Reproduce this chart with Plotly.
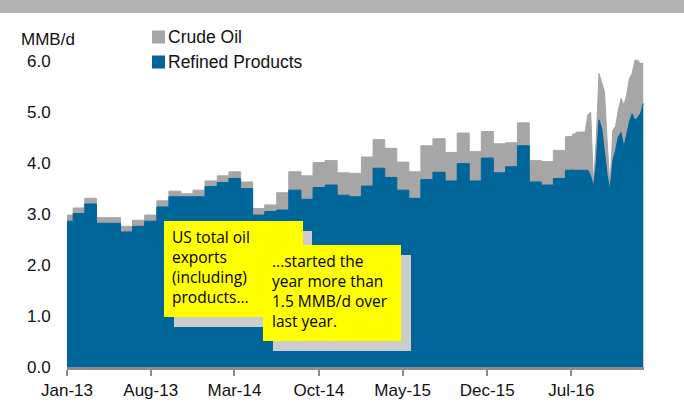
import pandas as pd
import plotly.graph_objects as go

# ---------------- data (MMB/d) ----------------
month_dates = pd.date_range("2013-01-01", "2016-06-01", freq="MS")
products_monthly = [
    2.86, 3.01, 3.20, 2.82, 2.82, 2.65, 2.76, 2.86, 3.14, 3.34, 3.34, 3.34,
    3.54, 3.62, 3.70, 3.50, 2.98, 3.05, 3.08, 3.47, 3.29, 3.52, 3.57, 3.37,
    3.34, 3.55, 3.90, 3.72, 3.47, 3.31, 3.68, 3.82, 3.65, 3.99, 3.65, 4.10,
    3.81, 3.93, 4.34, 3.63, 3.57, 3.70,
]
crude_monthly = [
    0.12, 0.11, 0.11, 0.11, 0.11, 0.11, 0.12, 0.12, 0.12, 0.11, 0.06, 0.13,
    0.11, 0.13, 0.13, 0.13, 0.13, 0.13, 0.34, 0.36, 0.46, 0.49, 0.48, 0.44,
    0.46, 0.57, 0.56, 0.57, 0.55, 0.52, 0.66, 0.66, 0.56, 0.60, 0.58, 0.52,
    0.57, 0.47, 0.45, 0.42, 0.46, 0.55,
]

week_dates = pd.date_range("2016-07-01", "2016-12-30", freq="7D")
products_weekly = [
    3.86, 3.86, 3.86, 3.86, 3.86, 3.86, 3.86, 3.75, 3.53, 4.00, 4.85, 4.68,
    4.21, 3.75, 3.47, 4.05, 4.25, 4.52, 4.60, 4.32, 4.55, 4.81, 4.97, 4.84,
    4.90, 4.97, 5.17,
]
crude_weekly = [
    0.66, 0.71, 0.75, 0.75, 0.75, 0.75, 1.09, 1.25, 0.07, 0.45, 0.91, 0.90,
    1.19, 0.65, 0.08, 0.60, 0.47, 0.53, 0.67, 0.82, 0.78, 0.85, 0.79, 1.18,
    1.12, 0.98, 0.79,
]

x_tick_labels = ["Jan-13", "Aug-13", "Mar-14", "Oct-14", "May-15", "Dec-15", "Jul-16"]
y_tick_values = [0, 1, 2, 3, 4, 5, 6]

# ---------------- styling ----------------
BLUE = "#006699"
GRAY = "#a6a6a6"
AXIS_GRAY = "#8c8c8c"
FONT = "Liberation Sans, Arial, sans-serif"
NOTE_FONT = "Comic Sans MS, Open Sans, sans-serif"

W, H = 684, 402
L, R, T, B = 67, 644, 51, 367
YMAX = 6.2


def px(x):
    return (x - L) / (R - L)


def py(y):
    return (B - y) / (B - T)


total_monthly = [p + c for p, c in zip(products_monthly, crude_monthly)]
total_weekly = [p + c for p, c in zip(products_weekly, crude_weekly)]

# monthly part (stepped) overlaps the first weekly interval so fills join cleanly
mx = list(month_dates) + list(week_dates[:2])
wx = list(week_dates)

fig = go.Figure()
# Crude oil stacked on top of products (drawn as total)
fig.add_trace(go.Scatter(x=mx, y=total_monthly + total_weekly[:2], mode="lines",
                         line=dict(shape="hvh", color=GRAY, width=1),
                         fill="tozeroy", fillcolor=GRAY, name="Crude Oil",
                         showlegend=False, hoverinfo="skip"))
fig.add_trace(go.Scatter(x=wx, y=total_weekly, mode="lines",
                         line=dict(shape="linear", color=GRAY, width=1),
                         fill="tozeroy", fillcolor=GRAY, name="Crude Oil",
                         showlegend=False, hoverinfo="skip"))
fig.add_trace(go.Scatter(x=mx, y=products_monthly + products_weekly[:2], mode="lines",
                         line=dict(shape="hvh", color=BLUE, width=1),
                         fill="tozeroy", fillcolor=BLUE, name="Refined Products",
                         showlegend=False, hoverinfo="skip"))
fig.add_trace(go.Scatter(x=wx, y=products_weekly, mode="lines",
                         line=dict(shape="linear", color=BLUE, width=1),
                         fill="tozeroy", fillcolor=BLUE, name="Refined Products",
                         showlegend=False, hoverinfo="skip"))

tick_dates = pd.date_range("2013-01-01", periods=len(x_tick_labels), freq="7MS")

shapes = [
    # top gray band
    dict(type="rect", xref="paper", yref="paper", x0=px(-5), x1=px(W + 5),
         y0=py(13), y1=py(-5), fillcolor="#b3b3b3", line_width=0, layer="above"),
    # legend swatches
    dict(type="rect", xref="paper", yref="paper", x0=px(152), x1=px(165),
         y0=py(43.5), y1=py(30.5), fillcolor=GRAY, line_width=0),
    dict(type="rect", xref="paper", yref="paper", x0=px(152), x1=px(165),
         y0=py(68.5), y1=py(55.5), fillcolor=BLUE, line_width=0),
    # note 1 shadow + box
    dict(type="rect", xref="paper", yref="paper", x0=px(174), x1=px(312),
         y0=py(327), y1=py(231), fillcolor="#cccccc", line_width=0, layer="above"),
    dict(type="rect", xref="paper", yref="paper", x0=px(164), x1=px(303),
         y0=py(317), y1=py(221), fillcolor="#ffff00", line_width=0, layer="above"),
    # note 2 shadow + box
    dict(type="rect", xref="paper", yref="paper", x0=px(273), x1=px(411),
         y0=py(351), y1=py(255), fillcolor="#cccccc", line_width=0, layer="above"),
    dict(type="rect", xref="paper", yref="paper", x0=px(263), x1=px(401),
         y0=py(341), y1=py(245), fillcolor="#ffff00", line_width=0, layer="above"),
]

annotations = [
    dict(text="MMB/d", xref="paper", yref="paper", x=px(19), y=py(39),
         xanchor="left", yanchor="middle", showarrow=False,
         font=dict(family=FONT, size=17, color="#111111")),
    dict(text="Crude Oil", xref="paper", yref="paper", x=px(166), y=py(37),
         xanchor="left", yanchor="middle", showarrow=False,
         font=dict(family=FONT, size=17.5, color="#111111")),
    dict(text="Refined Products", xref="paper", yref="paper", x=px(166), y=py(62),
         xanchor="left", yanchor="middle", showarrow=False,
         font=dict(family=FONT, size=17.5, color="#111111")),
    dict(text="US total oil<br>exports<br>(including)<br>products...",
         xref="paper", yref="paper", x=px(170), y=py(266.5),
         xanchor="left", yanchor="middle", align="left", showarrow=False,
         font=dict(family=NOTE_FONT, size=15.5, color="#000000")),
    dict(text="...started the<br>year more than<br>1.5 MMB/d over<br>last year.",
         xref="paper", yref="paper", x=px(269.5), y=py(290.5),
         xanchor="left", yanchor="middle", align="left", showarrow=False,
         font=dict(family=NOTE_FONT, size=15.5, color="#000000")),
]

fig.update_layout(
    width=W, height=H,
    margin=dict(l=L, r=W - R, t=T, b=H - B, pad=0),
    paper_bgcolor="white", plot_bgcolor="white",
    showlegend=False,
    shapes=shapes, annotations=annotations,
    font=dict(family=FONT, size=17, color="#111111"),
    xaxis=dict(type="date", range=["2013-01-01", "2017-01-01"],
               tickmode="array", tickvals=list(tick_dates), ticktext=x_tick_labels,
               showgrid=False, zeroline=False, showline=True,
               linecolor=AXIS_GRAY, linewidth=3,
               ticks="outside", ticklen=6, tickwidth=2, tickcolor=AXIS_GRAY,
               tickfont=dict(family=FONT, size=17, color="#111111"),
               automargin=False, fixedrange=True),
    yaxis=dict(range=[0, YMAX], tickmode="array", tickvals=y_tick_values,
               ticktext=[f"{v:.1f}" for v in y_tick_values],
               showgrid=False, zeroline=False, showline=False,
               ticks="outside", ticklen=12, tickcolor="rgba(0,0,0,0)",
               tickfont=dict(family=FONT, size=17, color="#111111"),
               automargin=False, fixedrange=True),
)

fig.write_html("out.html", config={"displayModeBar": False},
               post_script="document.body.style.margin='0px';document.body.style.overflow='hidden';")
